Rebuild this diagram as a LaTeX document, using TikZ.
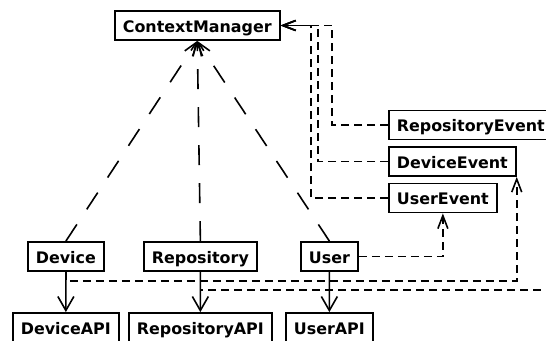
\documentclass[tikz,border=0pt]{standalone}
\usepackage{fontspec}
\setmainfont{DejaVu Sans}
\usetikzlibrary{arrows.meta}

\begin{document}
\begin{tikzpicture}[>={Straight Barb[length=14pt,width=16pt]},x=1pt,y=-1pt,
		cls/.style={draw,line width=1.8pt,anchor=west,font=\fontsize{15.9}{19}\selectfont\bfseries,
			inner xsep=8pt,inner ysep=6.25pt,text height=15pt,text depth=1.5pt},
		dep/.style={line width=1.6pt,dash pattern=on 20pt off 18pt,-{Straight Barb[length=13pt,width=10pt]}},
		evt/.style={line width=1.6pt,dash pattern=on 8pt off 5pt,-{Straight Barb[length=13pt,width=10pt]}}]
	\clip (0,0) rectangle (546,340);
	% các lớp
	\node[cls] (cm) at (114,25.5) {ContextManager};
	\node[cls] (repoEv) at (388,125) {RepositoryEvent};
	\node[cls] (devEv) at (388,161.5) {DeviceEvent};
	\node[cls] (userEv) at (388,198) {UserEvent};
	\node[cls] (device) at (27,256.5) {Device};
	\node[cls] (repo) at (143,256.5) {Repository};
	\node[cls] (user) at (300,256.5) {User};
	\node[cls] (devAPI) at (12,327.5) {DeviceAPI};
	\node[cls] (repoAPI) at (128,327.5) {RepositoryAPI};
	\node[cls] (userAPI) at (285,327.5) {UserAPI};
	\draw[dep] (device.north) -- (cm.south);
	\draw[dep] (repo.north) -- (cm.south);
	\draw[dep] (user.north) -- (cm.south);
	\draw[evt] (repoEv.west) -- ++(-56,0) |- (cm.east);
	\draw[evt] (devEv.west) -- ++(-70,0) |- (cm.east);
	\draw[evt] (userEv.west) -- ++(-77,0) |- (cm.east);
	\draw[evt] (device.south) -- ++(0,9) -| (devEv.south east);
	\draw[evt] (repo.south) -- ++(0,18) -| (repoEv.south east);
	\draw[evt] (user.east) -| (userEv.south);
	\draw[line width=1.6pt,->] (device) -- (devAPI);
	\draw[line width=1.6pt,->] (repo) -- (repoAPI);
	\draw[line width=1.6pt,->] (user) -- (userAPI);
\end{tikzpicture}
\end{document}
